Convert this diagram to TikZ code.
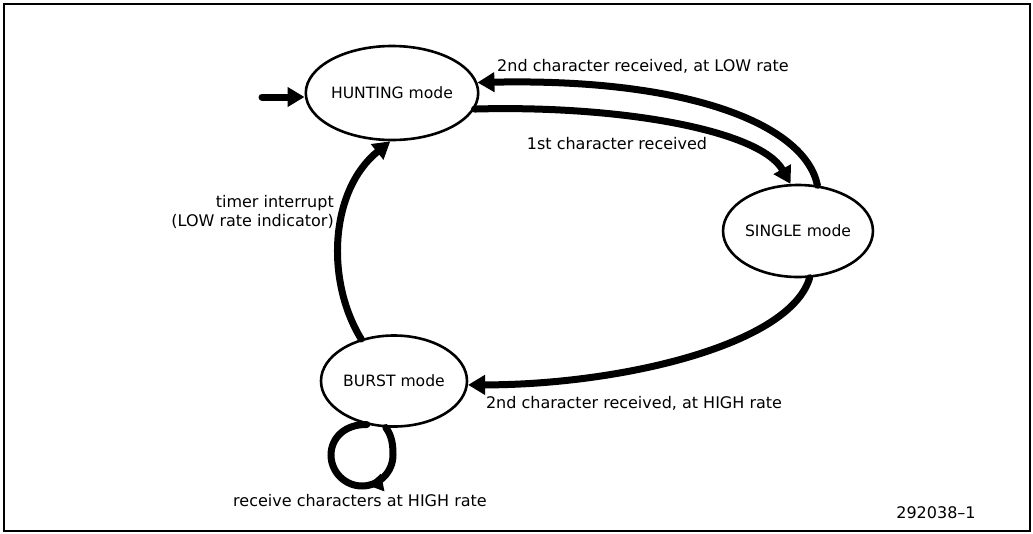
\documentclass[tikz,border=0pt]{standalone}
\usepackage{fontspec}
\setmainfont{DejaVu Sans}
\usetikzlibrary{arrows.meta,shapes.geometric,decorations.markings}
\begin{document}
\begin{tikzpicture}[x=1pt,y=-1pt,
  state/.style={draw,ellipse,line width=2.6pt,inner sep=0pt,font=\fontsize{15.6}{18}\selectfont},
  flow/.style={line width=7pt,line cap=round,-{Triangle[length=17pt,width=19pt]}},
  loopflow/.style={line width=7pt,line cap=round,postaction={decorate},
    decoration={markings,mark=at position 0.4 with {\arrow{Triangle[length=15pt,width=17pt]}}}},
  lbl/.style={font=\fontsize{16}{19.5}\selectfont,inner sep=0pt}]
\useasboundingbox (0,0) rectangle (1033,533);
\draw[line width=1.5pt] (4,4) rectangle (1030,531);

\node[state,minimum width=142pt,minimum height=94pt] (hunt) at (392,93) {HUNTING mode};
\node[state,minimum width=148pt,minimum height=92pt] (single) at (798,231) {SINGLE mode};
\node[state,minimum width=146pt,minimum height=91pt] (burst) at (394,381) {BURST mode};

\coordinate (init) at (262,97);
\draw[flow] (init) -- (init -| hunt.west);

\draw[flow] (single.67.6) .. controls (805,125) and (690,78) .. (hunt.7);
\draw[flow] (hunt.-11) .. controls (620,105) and (760,130) .. (single.99);
\draw[flow] (single.-76) .. controls (790,345) and (620,385) .. (burst.-3);
\draw[flow] (burst.128) .. controls (325,280) and (330,190) .. (hunt.-92);
\draw[loopflow] (burst.-100) .. controls (392,436) and (393,445) .. (393,455)
   .. controls (393,472) and (379,486) .. (362,486)
   .. controls (345,486) and (331,472) .. (331,455)
   .. controls (331,438) and (345,424) .. (burst.-122);

\node[lbl] (lowlbl) at (643,66) {2nd character received, at LOW rate};
\node[lbl] (firstlbl) at (617,144) {1st character received};
\node[lbl,anchor=east,align=right] (timerlbl) at (334,212) {timer interrupt\\(LOW rate indicator)};
\node[lbl] (highlbl) at (634,403) {2nd character received, at HIGH rate};
\node[lbl] (looplbl) at (360,501) {receive characters at HIGH rate};
\node[lbl] (figno) at (936,513) {292038–1};
\end{tikzpicture}
\end{document}
